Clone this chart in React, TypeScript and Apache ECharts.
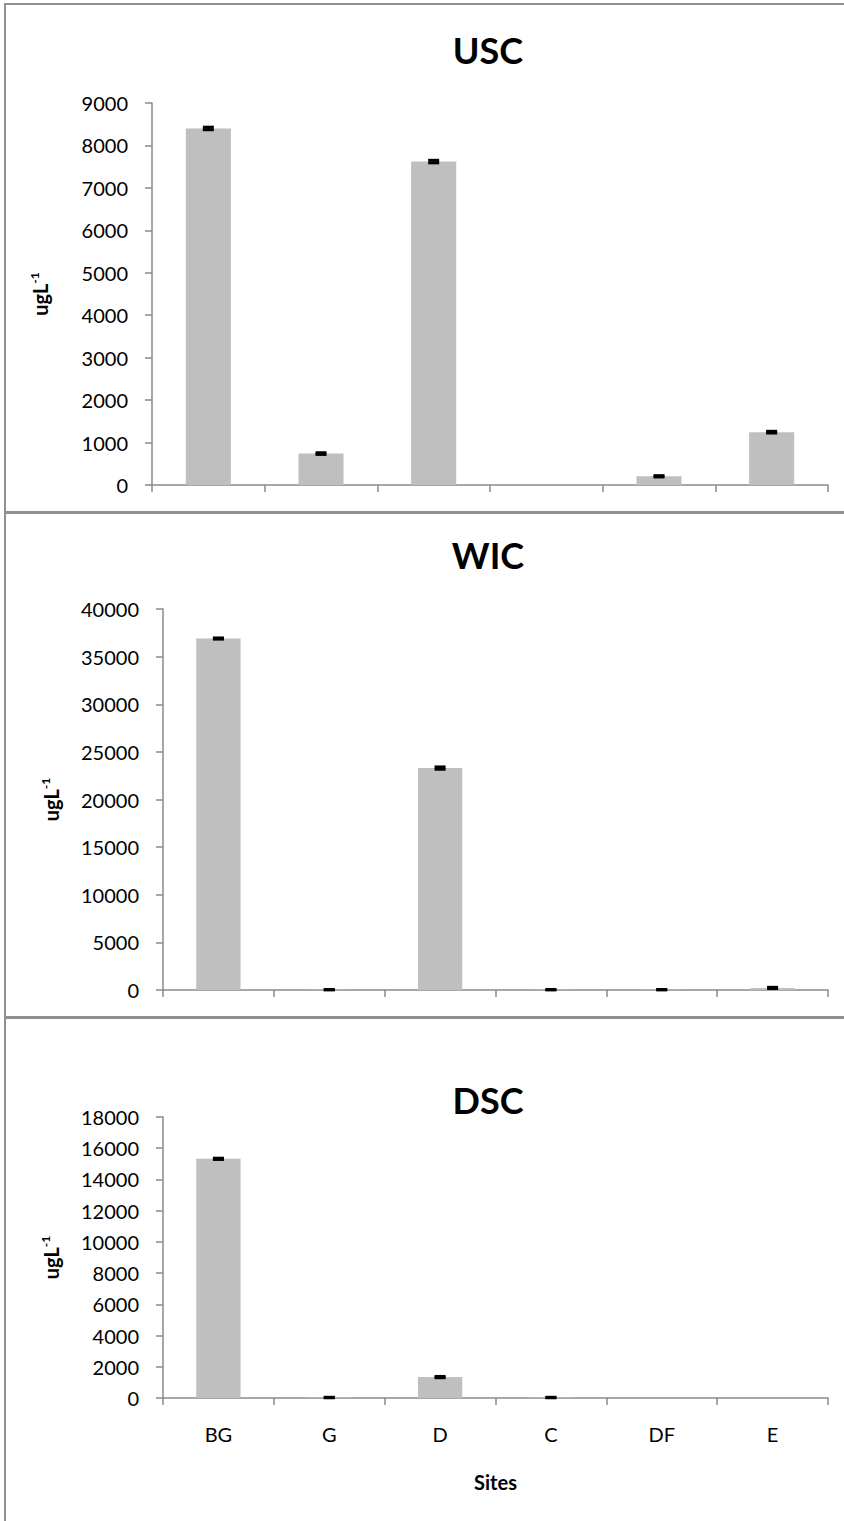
import React, { useEffect, useRef } from "react";
import * as echarts from "echarts";

const categories = ["BG", "G", "D", "C", "DF", "E"];

const uscValues = [8400, 740, 7620, 0, 205, 1245];
const uscErrors = [30, 20, 30, 0, 15, 20];

const wicValues = [36900, 30, 23300, 30, 30, 220];
const wicErrors = [60, 20, 120, 20, 20, 60];

const dscValues = [15320, 30, 1340, 30, 0, 0];
const dscErrors = [40, 15, 40, 15, 0, 0];

const panelTitles = ["USC", "WIC", "DSC"];
const yMax = [9000, 40000, 18000];
const yInterval = [1000, 5000, 2000];
const yAxisTitle = "ugL";
const yAxisTitleSup = "-1";
const xAxisTitle = "Sites";

const FONT = "Lato, 'Open Sans', sans-serif";
const AXIS_COLOR = "#8a8a8a";
const BAR_COLOR = "#bfbfbf";

export default function App() {
  const ref = useRef<HTMLDivElement>(null);

  useEffect(() => {
    if (!ref.current) return;
    const chart = echarts.init(ref.current, null, { renderer: "svg" });

    const grids = [
      { left: 152, top: 103, width: 676, height: 382 },
      { left: 163, top: 609, width: 665, height: 381 },
      { left: 163, top: 1117, width: 665, height: 281 },
    ];
    const values = [uscValues, wicValues, dscValues];
    const errors = [uscErrors, wicErrors, dscErrors];

    const xAxes = grids.map((_, i) => ({
      type: "category",
      gridIndex: i,
      data: categories,
      boundaryGap: true,
      axisLine: { show: true, lineStyle: { color: AXIS_COLOR, width: 1.5 } },
      axisTick: { show: true, length: 7, lineStyle: { color: AXIS_COLOR, width: 1.5 } },
      axisLabel: {
        show: i === 2,
        margin: 26,
        color: "#000",
        fontSize: 20,
        fontFamily: FONT,
      },
      name: i === 2 ? xAxisTitle : "",
      nameLocation: "middle",
      nameGap: 74,
      nameTextStyle: { fontWeight: "bold", fontSize: 20, color: "#000", fontFamily: FONT },
    }));

    const yAxes = grids.map((_, i) => ({
      type: "value",
      gridIndex: i,
      min: 0,
      max: yMax[i],
      interval: yInterval[i],
      splitLine: { show: false },
      axisLine: { show: true, lineStyle: { color: AXIS_COLOR, width: 1.5 } },
      axisTick: { show: true, length: 7, lineStyle: { color: AXIS_COLOR, width: 1.5 } },
      axisLabel: {
        margin: 24,
        color: "#000",
        fontSize: 20,
        fontFamily: FONT,
        formatter: (v: number) => String(v),
      },
      name: "{a|" + yAxisTitle + "}{b|" + yAxisTitleSup + "}",
      nameLocation: "middle",
      nameRotate: 90,
      nameGap: 100,
      nameTextStyle: {
        rich: {
          a: { fontWeight: "bold", fontSize: 20, lineHeight: 24, color: "#000", fontFamily: FONT },
          b: { fontWeight: "bold", fontSize: 12, lineHeight: 12, verticalAlign: "top", color: "#000", fontFamily: FONT },
        },
      },
    }));

    const series: any[] = [];
    grids.forEach((_, i) => {
      series.push({
        type: "bar",
        xAxisIndex: i,
        yAxisIndex: i,
        data: values[i],
        barWidth: "40%",
        itemStyle: { color: BAR_COLOR },
        silent: true,
      });
      const errData = values[i]
        .map((v, k) => [k, v, errors[i][k]])
        .filter((d) => d[1] > 0);
      series.push({
        type: "custom",
        xAxisIndex: i,
        yAxisIndex: i,
        encode: { x: 0, y: 1 },
        data: errData,
        silent: true,
        z: 5,
        renderItem: (params: any, api: any) => {
          const x = api.value(0);
          const v = api.value(1);
          const e = api.value(2);
          const top = api.coord([x, v + e]);
          const bot = api.coord([x, v - e]);
          const cx = top[0];
          return {
            type: "group",
            children: [
              { type: "line", shape: { x1: cx, y1: top[1], x2: cx, y2: bot[1] }, style: { stroke: "#000", lineWidth: 1.5 } },
              { type: "line", shape: { x1: cx - 5.5, y1: top[1], x2: cx + 5.5, y2: top[1] }, style: { stroke: "#000", lineWidth: 3 } },
              { type: "line", shape: { x1: cx - 5.5, y1: bot[1], x2: cx + 5.5, y2: bot[1] }, style: { stroke: "#000", lineWidth: 3 } },
            ],
          };
        },
      });
    });

    const titleY = [50, 555, 1100];
    const panelRects = [
      { x: 5, y: 4, width: 900, height: 508 },
      { x: 5, y: 513, width: 900, height: 504 },
      { x: 5, y: 1018, width: 900, height: 600 },
    ];

    const graphic: any[] = [];
    panelRects.forEach((r) => {
      graphic.push({
        type: "rect",
        shape: r,
        style: { fill: "none", stroke: "#8f8f8f", lineWidth: 2 },
        silent: true,
        z: -1,
      });
    });
    panelTitles.forEach((t, i) => {
      graphic.push({
        type: "text",
        x: 488,
        y: titleY[i],
        style: {
          text: t,
          textAlign: "center",
          textVerticalAlign: "middle",
          font: "bold 36px " + FONT,
          fill: "#000",
        },
        silent: true,
      });
    });

    chart.setOption({
      animation: false,
      grid: grids,
      xAxis: xAxes,
      yAxis: yAxes,
      series,
      graphic,
    });

    return () => {
      chart.dispose();
    };
  }, []);

  return (
    <div
      ref={ref}
      style={{ position: "absolute", left: 0, top: 0, width: 844, height: 1521, background: "#fff" }}
    />
  );
}
